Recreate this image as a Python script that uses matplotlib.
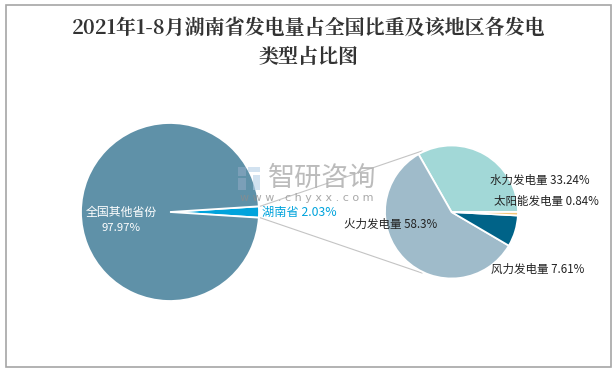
import matplotlib
matplotlib.use('Agg')
import matplotlib.pyplot as plt
from matplotlib.patches import Rectangle

plt.rcParams['font.family'] = ['Noto Sans CJK SC', 'DejaVu Sans']

title_lines = ['2021年1-8月湖南省发电量占全国比重及该地区各发电', '类型占比图']
left_names = ['湖南省', '全国其他省份']
left_values = [2.03, 97.97]
left_colors = ['#00a3dc', '#5f91a8']
right_names = ['水力发电量', '火力发电量', '风力发电量', '太阳能发电量']
right_values = [33.24, 58.3, 7.61, 0.84]
right_colors = ['#a2d8d7', '#9fbbca', '#006388', '#f3c77a']

W, H = 615, 371
fig = plt.figure(figsize=(W / 100, H / 100), dpi=100)
ax = fig.add_axes([0, 0, 1, 1])
ax.set_xlim(0, W)
ax.set_ylim(H, 0)
ax.axis('off')

# outer frame
ax.add_patch(Rectangle((6, 5), 605, 362, fc='white', ec='#a6a6a6', lw=1.2))

# connector lines
ax.plot([258, 422], [207, 151], color='#c4c4c4', lw=0.8, zorder=1)
ax.plot([258, 422], [217, 273], color='#c4c4c4', lw=0.8, zorder=1)

# left pie
ax_left = fig.add_axes([(170 - 89) / W, 1 - (212 + 89) / H, 178 / W, 178 / H])
ax_left.pie(left_values, colors=left_colors, startangle=-left_values[0] * 1.8,
            radius=1.0, wedgeprops={'lw': 1.3, 'ec': 'white'}, counterclock=True)
ax_left.set_xlim(-1, 1)
ax_left.set_ylim(-1, 1)

# right pie
ax_right = fig.add_axes([(451.5 - 66.5) / W, 1 - (212 + 66.5) / H, 133 / W, 133 / H])
ax_right.pie(right_values, colors=right_colors, startangle=0,
             radius=1.0, wedgeprops={'lw': 1.3, 'ec': 'white'}, counterclock=True)
ax_right.set_xlim(-1, 1)
ax_right.set_ylim(-1, 1)

# title
title_font = ['Noto Serif CJK SC', 'Noto Sans CJK SC']
ax.text(309, 29, title_lines[0], fontsize=14.4, fontweight='bold', family=title_font,
        color='#333333', ha='center', va='center')
ax.text(309, 57, title_lines[1], fontsize=14.4, fontweight='bold', family=title_font,
        color='#333333', ha='center', va='center')

# watermark and labels sit on top of the pies
top = fig.add_axes([0, 0, 1, 1], facecolor='none')
top.set_xlim(0, W)
top.set_ylim(H, 0)
top.axis('off')

top.add_patch(Rectangle((238, 167), 8, 9, fc='#8fa9c4', alpha=0.6, lw=0))
top.add_patch(Rectangle((238, 178), 8, 12, fc='#8fa9c4', alpha=0.6, lw=0))
top.add_patch(Rectangle((248, 167), 12, 5, fc='#b4d0e6', alpha=0.6, lw=0))
top.add_patch(Rectangle((253, 175), 7, 15, fc='#b4d0e6', alpha=0.6, lw=0))
top.text(268, 178, '智研咨询', fontsize=19.5, color='#b4b4b4', alpha=0.9, va='center', ha='left')
top.text(307, 198, 'w w w . c h y x x . c o m', fontsize=8, color='#8c8c8c', alpha=0.75,
         va='center', ha='center', family='DejaVu Sans')

top.text(121, 212, left_names[1], fontsize=8.6, color='white', ha='center', va='center')
top.text(121, 228, f'{left_values[1]}%', fontsize=8.2, color='white', ha='center', va='center')
top.text(262, 212, f'{left_names[0]} {left_values[0]}%', fontsize=8.8, color='#00a3dc', ha='left', va='center')
top.text(490, 180, f'{right_names[0]} {right_values[0]}%', fontsize=8.3, color='#222222', ha='left', va='center')
top.text(344, 224, f'{right_names[1]} {right_values[1]}%', fontsize=8.3, color='#222222', ha='left', va='center')
top.text(491, 269, f'{right_names[2]} {right_values[2]}%', fontsize=8.3, color='#222222', ha='left', va='center')
top.text(494, 201, f'{right_names[3]} {right_values[3]}%', fontsize=8.3, color='#222222', ha='left', va='center')

fig.savefig('out.png', dpi=100)
